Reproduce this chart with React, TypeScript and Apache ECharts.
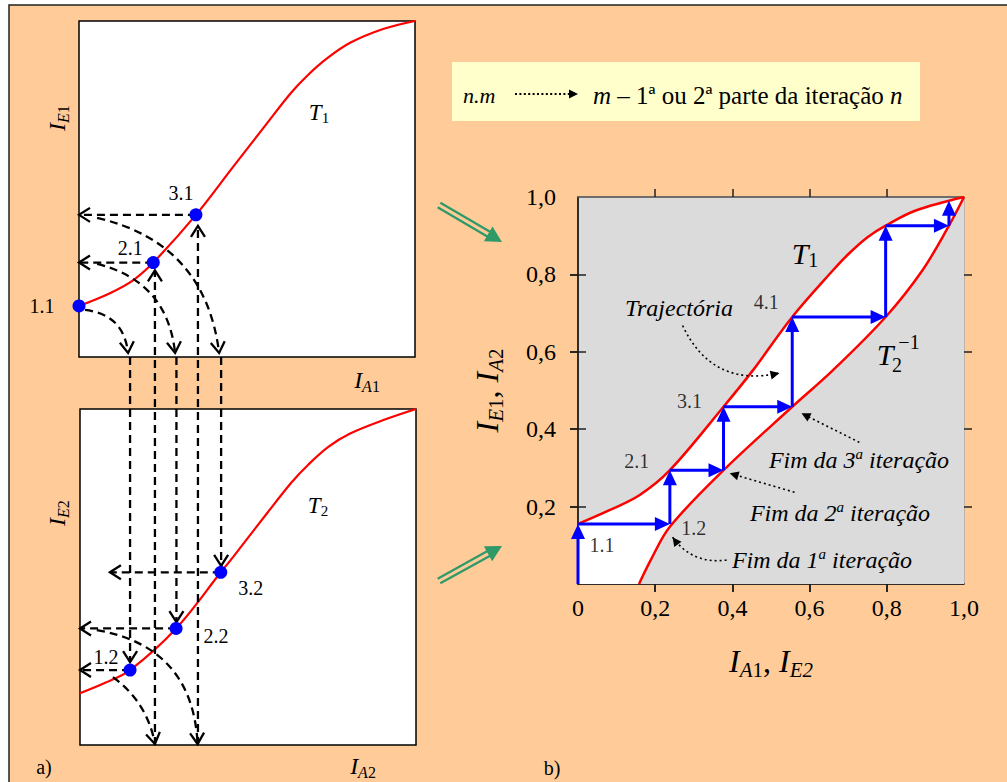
import React, { useEffect, useRef } from 'react';
import * as echarts from 'echarts';

const SERIF = 'Liberation Serif, serif';

// ---------------- data ----------------
// Panel a) : transfer curves on normalised axes (0..1)
const t1LeftCurve = [[0, 0.152], [0.092, 0.19], [0.162, 0.229], [0.221, 0.281], [0.348, 0.423], [0.458, 0.565], [0.56, 0.696], [0.63, 0.785], [0.68, 0.838], [0.74, 0.89], [0.807, 0.935], [0.905, 0.976], [1, 1]];
const t2LeftCurve = [[0, 0.154], [0.075, 0.185], [0.149, 0.223], [0.286, 0.347], [0.419, 0.514], [0.456, 0.56], [0.556, 0.689], [0.63, 0.782], [0.68, 0.835], [0.74, 0.888], [0.804, 0.927], [0.903, 0.967], [1, 1]];
const topPoints = [[0, 0.152], [0.221, 0.281], [0.348, 0.423]];
const topPointLabels = ['1.1', '2.1', '3.1'];
const bottomPoints = [[0.149, 0.223], [0.286, 0.347], [0.419, 0.514]];
const bottomPointLabels = ['1.2', '2.2', '3.2'];
// dashed arrows [x1, y1, x2, y2, curveness] (top box coordinates)
const dashedTop = [
  [0.348, 0.423, 0, 0.423, 0],
  [0.221, 0.281, 0, 0.281, 0],
  [0.018, 0.14, 0.146, 0.012, 0.4],
  [0.054, 0.277, 0.286, 0.012, 0.35],
  [0.054, 0.414, 0.417, 0.012, 0.35],
  [0.226, -1.155, 0.226, 0.258, 0],
  [0.354, -1.155, 0.354, 0.39, 0],
];
// dashed arrows (bottom box coordinates)
const dashedBottom = [
  [0.149, 1.155, 0.149, 0.247, 0],
  [0.287, 1.155, 0.287, 0.366, 0],
  [0.42, 1.155, 0.42, 0.533, 0],
  [0.419, 0.514, 0.089, 0.514, 0],
  [0.286, 0.347, 0, 0.347, 0],
  [0.149, 0.223, 0, 0.223, 0],
  [0.098, 0.202, 0.223, 0.003, 0.2],
  [0.05, 0.342, 0.35, 0.003, 0.4],
];

// Panel b)
const rightT1 = [[0, 0.155], [0.08, 0.19], [0.16, 0.23], [0.238, 0.294], [0.377, 0.458], [0.453, 0.552], [0.555, 0.69], [0.66, 0.81], [0.70, 0.852], [0.75, 0.896], [0.797, 0.926], [0.875, 0.965], [1, 1]];
const rightT2Inv = [[0.158, 0], [0.19, 0.065], [0.238, 0.148], [0.377, 0.294], [0.555, 0.458], [0.66, 0.552], [0.797, 0.69], [0.892, 0.81], [0.961, 0.926], [1, 1]];
const trajectory = [[0, 0], [0, 0.155], [0.238, 0.155], [0.238, 0.294], [0.377, 0.294], [0.377, 0.458], [0.555, 0.458], [0.555, 0.69], [0.797, 0.69], [0.797, 0.926], [0.961, 0.926], [0.961, 0.99]];
const rightPoints = [[0, 0.155], [0.238, 0.155], [0.238, 0.294], [0.377, 0.458], [0.555, 0.69]];
const rightPointLabels = ['1.1', '1.2', '2.1', '3.1', '4.1'];
// dotted annotation arrows [x1, y1, x2, y2, curveness]
const noteArrows = [
  [0.271, 0.668, 0.522, 0.545, -0.4],
  [0.729, 0.366, 0.579, 0.441, 0],
  [0.561, 0.237, 0.393, 0.286, 0],
  [0.385, 0.062, 0.245, 0.121, 0.3],
];
const xLabelValues = [0, 0.2, 0.4, 0.6, 0.8, 1];
const yLabelValues = [0.2, 0.4, 0.6, 0.8, 1];
const tickValues = [0.2, 0.4, 0.6, 0.8];

// ---------------- styling ----------------
const topLabelOffsets = [[-37, 0], [-23, -15], [-15, -22]];
const bottomLabelOffsets = [[-24, -13], [40, 8], [30, 16]];
const rightLabelOffsets = [[24, 21], [24, 4], [-33, -9], [-34, -6], [-26, -15]];

type ArrowStyle = { color: string; width: number; dash?: number[]; head: 'fill' | 'open'; len: number; half: number };

function makeArrowRenderer(st: ArrowStyle) {
  return (_params: any, api: any) => {
    const a = api.coord([api.value(0), api.value(1)]);
    const b = api.coord([api.value(2), api.value(3)]);
    const c = Number(api.value(4)) || 0;
    const dx = b[0] - a[0];
    const dy = b[1] - a[1];
    const cp = [(a[0] + b[0]) / 2 + c * dy, (a[1] + b[1]) / 2 - c * dx];
    let tx = c ? b[0] - cp[0] : dx;
    let ty = c ? b[1] - cp[1] : dy;
    const tl = Math.hypot(tx, ty) || 1;
    tx /= tl;
    ty /= tl;
    const nx = -ty;
    const ny = tx;
    const bx = b[0] - tx * st.len;
    const by = b[1] - ty * st.len;
    const lineStyle: any = { stroke: st.color, lineWidth: st.width, fill: 'none' };
    if (st.dash) lineStyle.lineDash = st.dash;
    const children: any[] = [];
    if (c) {
      children.push({ type: 'bezierCurve', shape: { x1: a[0], y1: a[1], x2: b[0], y2: b[1], cpx1: cp[0], cpy1: cp[1] }, style: lineStyle });
    } else {
      const ex = st.head === 'fill' ? bx + tx * 2 : b[0];
      const ey = st.head === 'fill' ? by + ty * 2 : b[1];
      children.push({ type: 'line', shape: { x1: a[0], y1: a[1], x2: ex, y2: ey }, style: lineStyle });
    }
    if (st.head === 'fill') {
      children.push({
        type: 'polygon',
        shape: { points: [[b[0], b[1]], [bx + nx * st.half, by + ny * st.half], [bx - nx * st.half, by - ny * st.half]] },
        style: { fill: st.color },
      });
    } else {
      children.push({
        type: 'polyline',
        shape: { points: [[bx + nx * st.half, by + ny * st.half], [b[0], b[1]], [bx - nx * st.half, by - ny * st.half]] },
        style: { stroke: st.color, lineWidth: st.width, fill: 'none' },
      });
    }
    return { type: 'group', children };
  };
}

const fmt = (v: number) => (v === 0 ? '0' : v.toFixed(1).replace('.', ','));

function txt(x: number, y: number, text: string, size: number, opt: any = {}) {
  return {
    type: 'text',
    x,
    y,
    z: 100,
    rotation: opt.rot || 0,
    style: {
      text,
      fontSize: size,
      fontFamily: SERIF,
      fontStyle: opt.italic ? 'italic' : 'normal',
      fill: '#000',
      align: opt.align || 'center',
      verticalAlign: 'middle',
      rich: opt.rich,
    },
  };
}

function subRich(main: number, sub: number) {
  return {
    i: { fontSize: main, fontStyle: 'italic', fontFamily: SERIF, lineHeight: main + 4, fill: '#000' },
    r: { fontSize: main, fontFamily: SERIF, lineHeight: main + 4, fill: '#000' },
    s: { fontSize: sub, fontStyle: 'italic', fontFamily: SERIF, lineHeight: sub, verticalAlign: 'bottom', fill: '#000' },
    n: { fontSize: sub, fontFamily: SERIF, lineHeight: sub, verticalAlign: 'bottom', fill: '#000' },
    u: { fontSize: sub, fontStyle: 'italic', fontFamily: SERIF, lineHeight: sub, verticalAlign: 'top', fill: '#000' },
  };
}

function greenArrow(tail: number[], tip: number[]) {
  const G = '#2F9A68';
  const dx = tip[0] - tail[0];
  const dy = tip[1] - tail[1];
  const L = Math.hypot(dx, dy);
  const ux = dx / L;
  const uy = dy / L;
  const nx = -uy;
  const ny = ux;
  const hl = 16;
  const hw = 8.5;
  const bx = tip[0] - ux * hl;
  const by = tip[1] - uy * hl;
  const off = 2.7;
  return [
    { type: 'line', z: 50, shape: { x1: tail[0] + nx * off, y1: tail[1] + ny * off, x2: bx + ux * 3 + nx * off, y2: by + uy * 3 + ny * off }, style: { stroke: G, lineWidth: 2.3 } },
    { type: 'line', z: 50, shape: { x1: tail[0] - nx * off, y1: tail[1] - ny * off, x2: bx + ux * 3 - nx * off, y2: by + uy * 3 - ny * off }, style: { stroke: G, lineWidth: 2.3 } },
    { type: 'polygon', z: 50, shape: { points: [[tip[0], tip[1]], [bx + nx * hw, by + ny * hw], [bx - nx * hw, by - ny * hw]] }, style: { fill: G } },
  ];
}

function hiddenAxis(gridIndex: number) {
  return { type: 'value', gridIndex, min: 0, max: 1, show: false };
}

function tickAxis(gridIndex: number, position: string, inside: boolean, lineColor: string | null, lineType: any = 'solid') {
  return {
    type: 'value',
    gridIndex,
    position,
    min: 0,
    max: 1,
    interval: 0.2,
    axisLine: lineColor ? { show: true, onZero: false, lineStyle: { color: lineColor, width: 1.5, type: lineType } } : { show: false },
    axisTick: { show: true, inside, length: 8, customValues: tickValues, lineStyle: { color: '#222', width: 1.5 } },
    axisLabel: { show: false },
    splitLine: { show: false },
  };
}

const labelStyle = { fontSize: 20, fontFamily: SERIF, color: '#000' };

export default function App() {
  const ref = useRef<HTMLDivElement>(null);

  useEffect(() => {
    if (!ref.current) return;
    const chart = echarts.init(ref.current, undefined, { renderer: 'svg' });

    const axisRich = {
      i: { fontSize: 32, fontStyle: 'italic', fontFamily: SERIF, lineHeight: 38, color: '#000' },
      c: { fontSize: 32, fontFamily: SERIF, lineHeight: 38, color: '#000' },
      s: { fontSize: 21, fontStyle: 'italic', fontFamily: SERIF, lineHeight: 21, verticalAlign: 'bottom', color: '#000' },
      n: { fontSize: 21, fontFamily: SERIF, lineHeight: 21, verticalAlign: 'bottom', color: '#000' },
    };

    const dashedStyle: ArrowStyle = { color: '#000', width: 2.3, dash: [8, 5], head: 'open', len: 11, half: 7 };
    const blueStyle: ArrowStyle = { color: '#0000FF', width: 3, head: 'fill', len: 15, half: 7 };
    const dottedStyle: ArrowStyle = { color: '#000', width: 1.6, dash: [2, 3], head: 'fill', len: 9, half: 4.5 };

    const trajSegments = trajectory.slice(1).map((p, i) => [trajectory[i][0], trajectory[i][1], p[0], p[1], 0]);

    const option: any = {
      animation: false,
      backgroundColor: '#ffffff',
      textStyle: { fontFamily: SERIF },
      grid: [
        { left: 79, top: 21, width: 336, height: 336, show: true, backgroundColor: '#fff', borderColor: '#000', borderWidth: 1.5 },
        { left: 80, top: 409, width: 336, height: 336, show: true, backgroundColor: '#fff', borderColor: '#000', borderWidth: 1.5 },
        { left: 578, top: 197, width: 386, height: 387, show: true, backgroundColor: '#DBDBDB', borderColor: '#9a9a9a', borderWidth: 1 },
        { left: 578, top: 197, width: 386, height: 387, show: false },
      ],
      xAxis: [
        hiddenAxis(0),
        hiddenAxis(1),
        {
          type: 'value',
          gridIndex: 2,
          position: 'bottom',
          min: 0,
          max: 1,
          interval: 0.2,
          axisLine: { show: true, onZero: false, lineStyle: { color: '#000', width: 1.5 } },
          axisTick: { show: true, length: 8, customValues: tickValues, lineStyle: { color: '#000', width: 1.5 } },
          axisLabel: { show: true, customValues: xLabelValues, formatter: fmt, fontSize: 24, fontFamily: SERIF, color: '#000', margin: 12 },
          splitLine: { show: false },
          name: '{i|I}{s|A}{n|1}{c|, }{i|I}{s|E2}',
          nameLocation: 'middle',
          nameGap: 58,
          nameTextStyle: { rich: axisRich },
        },
        tickAxis(2, 'top', false, '#555'),
        tickAxis(3, 'bottom', true, null),
        tickAxis(3, 'top', true, null),
      ],
      yAxis: [
        hiddenAxis(0),
        hiddenAxis(1),
        {
          type: 'value',
          gridIndex: 2,
          position: 'left',
          min: 0,
          max: 1,
          interval: 0.2,
          axisLine: { show: true, onZero: false, lineStyle: { color: '#000', width: 1.5 } },
          axisTick: { show: true, length: 8, customValues: tickValues, lineStyle: { color: '#000', width: 1.5 } },
          axisLabel: { show: true, customValues: yLabelValues, formatter: fmt, fontSize: 24, fontFamily: SERIF, color: '#000', margin: 22 },
          splitLine: { show: false },
          name: '{i|I}{s|E}{n|1}{c|, }{i|I}{s|A}{n|2}',
          nameLocation: 'middle',
          nameGap: 72,
          nameRotate: 90,
          nameTextStyle: { rich: axisRich },
        },
        tickAxis(2, 'right', false, '#b5b5b5', [2, 2]),
        tickAxis(3, 'left', true, null),
        tickAxis(3, 'right', true, null),
      ],
      series: [
        // ---- panel a) top box ----
        {
          type: 'line', name: 'T1 (a)', xAxisIndex: 0, yAxisIndex: 0, data: t1LeftCurve, smooth: 0.35,
          showSymbol: false, symbol: 'none', lineStyle: { color: '#FF0000', width: 2.2 }, z: 3,
        },
        {
          type: 'custom', name: 'dashed top', xAxisIndex: 0, yAxisIndex: 0, clip: false, z: 4,
          renderItem: makeArrowRenderer(dashedStyle), data: dashedTop,
        },
        {
          type: 'scatter', name: 'points top', xAxisIndex: 0, yAxisIndex: 0, clip: false, z: 6,
          symbolSize: 13, itemStyle: { color: '#0000FF', opacity: 1 },
          data: topPoints.map((p, i) => ({
            value: p,
            label: { show: true, formatter: topPointLabels[i], position: 'inside', offset: topLabelOffsets[i], ...labelStyle },
          })),
        },
        // ---- panel a) bottom box ----
        {
          type: 'line', name: 'T2 (a)', xAxisIndex: 1, yAxisIndex: 1, data: t2LeftCurve, smooth: 0.35,
          showSymbol: false, symbol: 'none', lineStyle: { color: '#FF0000', width: 2.2 }, z: 3,
        },
        {
          type: 'custom', name: 'dashed bottom', xAxisIndex: 1, yAxisIndex: 1, clip: false, z: 4,
          renderItem: makeArrowRenderer(dashedStyle), data: dashedBottom,
        },
        {
          type: 'scatter', name: 'points bottom', xAxisIndex: 1, yAxisIndex: 1, clip: false, z: 6,
          symbolSize: 13, itemStyle: { color: '#0000FF', opacity: 1 },
          data: bottomPoints.map((p, i) => ({
            value: p,
            label: { show: true, formatter: bottomPointLabels[i], position: 'inside', offset: bottomLabelOffsets[i], ...labelStyle },
          })),
        },
        // ---- panel b) ----
        {
          type: 'line', name: 'area T1', xAxisIndex: 2, yAxisIndex: 2, data: rightT1, smooth: 0.35,
          showSymbol: false, symbol: 'none', lineStyle: { width: 0, opacity: 0 },
          areaStyle: { color: '#ffffff', opacity: 1, origin: 'start' }, z: 1,
        },
        {
          type: 'line', name: 'area T2inv', xAxisIndex: 2, yAxisIndex: 2, data: rightT2Inv, smooth: 0.35,
          showSymbol: false, symbol: 'none', lineStyle: { width: 0, opacity: 0 },
          areaStyle: { color: '#DBDBDB', opacity: 1, origin: 'start' }, z: 1,
        },
        {
          type: 'line', name: 'T1', xAxisIndex: 2, yAxisIndex: 2, data: rightT1, smooth: 0.35,
          showSymbol: false, symbol: 'none', lineStyle: { color: '#FF0000', width: 2.5 }, z: 3,
        },
        {
          type: 'line', name: 'T2^-1', xAxisIndex: 2, yAxisIndex: 2, data: rightT2Inv, smooth: 0.35,
          showSymbol: false, symbol: 'none', lineStyle: { color: '#FF0000', width: 2.5 }, z: 3,
        },
        {
          type: 'custom', name: 'Trajectória', xAxisIndex: 2, yAxisIndex: 2, clip: false, z: 5,
          renderItem: makeArrowRenderer(blueStyle), data: trajSegments,
        },
        {
          type: 'custom', name: 'notes', xAxisIndex: 2, yAxisIndex: 2, clip: false, z: 5,
          renderItem: makeArrowRenderer(dottedStyle), data: noteArrows,
        },
        {
          type: 'scatter', name: 'labels b', xAxisIndex: 2, yAxisIndex: 2, clip: false, z: 6,
          symbolSize: 1, itemStyle: { color: 'rgba(0,0,0,0)' },
          data: rightPoints.map((p, i) => ({
            value: p,
            label: { show: true, formatter: rightPointLabels[i], position: 'inside', offset: rightLabelOffsets[i], ...labelStyle },
          })),
        },
      ],
      graphic: [
        {
          type: 'rect', z: -100, silent: true,
          shape: { x: 9, y: 5, width: 1010, height: 800 },
          style: { fill: '#FFCC99', stroke: '#222', lineWidth: 1.5 },
        },
        // legend box
        { type: 'rect', z: 10, shape: { x: 452, y: 62, width: 468, height: 59 }, style: { fill: '#FFFFCC' } },
        txt(463, 95, 'n.m', 22, { italic: true, align: 'left' }),
        { type: 'line', z: 20, shape: { x1: 515, y1: 94, x2: 570, y2: 94 }, style: { stroke: '#000', lineWidth: 2, lineDash: [2, 2.4] } },
        { type: 'polygon', z: 20, shape: { points: [[578, 94], [569, 89.5], [569, 98.5]] }, style: { fill: '#000' } },
        txt(593, 95, '{i|m}{r| – 1ª ou 2ª parte da iteração }{i|n}', 25, { align: 'left', rich: subRich(25, 16) }),
        // panel a) texts
        txt(319, 112, '{i|T}{n|1}', 23, { rich: subRich(23, 15) }),
        txt(57, 118, '{i|I}{s|E}{n|1}', 24, { rot: Math.PI / 2, rich: subRich(24, 16) }),
        txt(367, 380, '{i|I}{s|A}{n|1}', 24, { rich: subRich(24, 16) }),
        txt(318, 505, '{i|T}{n|2}', 23, { rich: subRich(23, 15) }),
        txt(57, 513, '{i|I}{s|E}{n|2}', 24, { rot: Math.PI / 2, rich: subRich(24, 16) }),
        txt(363, 766, '{i|I}{s|A}{n|2}', 24, { rich: subRich(24, 16) }),
        txt(44, 767, 'a)', 20),
        txt(552, 768, 'b)', 20),
        // panel b) texts
        txt(805, 253, '{i|T}{n|1}', 30, { rich: subRich(30, 20) }),
        txt(885, 354, 'T', 30, { italic: true }),
        txt(897, 365, '2', 20),
        txt(909, 342, '−1', 20),
        txt(679, 308, 'Trajectória', 24, { italic: true }),
        txt(859, 460, '{i|Fim da 3}{u|a}{i| iteração}', 24, { rich: subRich(24, 15) }),
        txt(840, 513, '{i|Fim da 2}{u|a}{i| iteração}', 24, { rich: subRich(24, 15) }),
        txt(822, 560, '{i|Fim da 1}{u|a}{i| iteração}', 24, { rich: subRich(24, 15) }),
        // connecting arrows between panels
        ...greenArrow([439, 205], [502, 242]),
        ...greenArrow([439, 581], [502, 546]),
      ],
    };

    chart.setOption(option);
    return () => chart.dispose();
  }, []);

  return (
    <div
      ref={ref}
      style={{ position: 'absolute', left: 0, top: 0, width: 1007, height: 782 }}
    />
  );
}
